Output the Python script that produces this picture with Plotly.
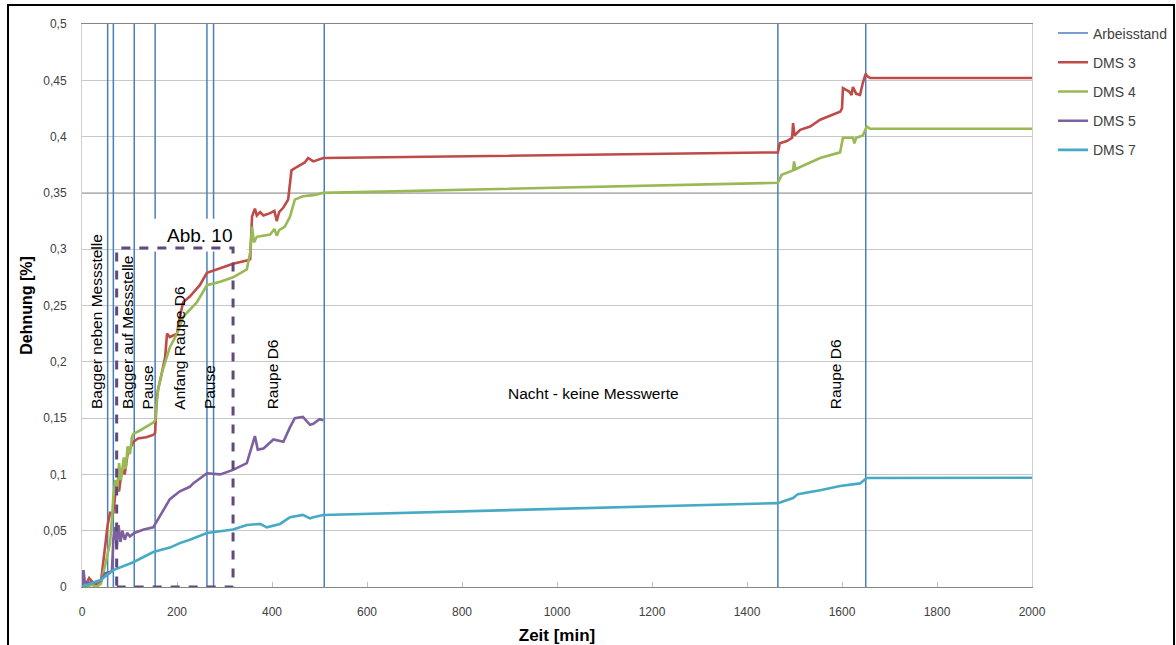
import plotly.graph_objects as go

# ---------------- data ----------------
work_times = [54, 66, 110, 154, 263, 277, 510, 1465, 1650]  # Arbeisstand markers [min]

t_dms3 = [0, 3, 8, 15, 25, 35, 40, 44, 48, 54, 59, 66, 72, 78, 84, 90, 96, 101, 108, 118, 135, 150, 154,
          157, 160, 168, 175, 179, 185, 200, 206, 213, 227, 248, 263, 291, 318, 347, 354, 358, 364, 368,
          375, 382, 396, 405, 410, 415, 424, 434, 441, 452, 469, 476, 487, 508, 1465, 1469, 1484, 1495,
          1497, 1500, 1512, 1533, 1554, 1596, 1600, 1602, 1615, 1620, 1623, 1630, 1638, 1644, 1650, 1652,
          1659, 2000]
v_dms3 = [0.0, 0.006, 0.002, 0.008, 0.003, 0.002, 0.005, 0.02, 0.035, 0.055, 0.066, 0.066, 0.09, 0.085,
          0.105, 0.10, 0.118, 0.122, 0.129, 0.132, 0.133, 0.135, 0.137, 0.166, 0.175, 0.19, 0.204, 0.225,
          0.222, 0.225, 0.24, 0.253, 0.258, 0.268, 0.279, 0.283, 0.287, 0.290, 0.291, 0.329, 0.336, 0.33,
          0.333, 0.330, 0.332, 0.334, 0.325, 0.333, 0.337, 0.344, 0.370, 0.373, 0.377, 0.381, 0.378, 0.381,
          0.386, 0.394, 0.396, 0.399, 0.412, 0.401, 0.406, 0.409, 0.415, 0.422, 0.425, 0.443, 0.440, 0.437,
          0.444, 0.438, 0.437, 0.448, 0.456, 0.454, 0.452, 0.452]

t_dms4 = [0, 3, 5, 10, 20, 30, 40, 48, 55, 59, 63, 66, 70, 74, 78, 82, 88, 92, 96, 101, 105, 108, 122,
          150, 154, 156, 160, 168, 175, 185, 200, 213, 242, 263, 291, 318, 347, 354, 358, 362, 368, 396,
          405, 410, 415, 427, 438, 448, 465, 487, 508, 1465, 1473, 1497, 1499, 1502, 1512, 1554, 1596,
          1602, 1623, 1626, 1630, 1644, 1652, 1659, 2000]
v_dms4 = [0.0, 0.015, 0.002, 0.0, 0.002, 0.0, 0.003, 0.018, 0.03, 0.039, 0.06, 0.08, 0.095, 0.085, 0.11,
          0.095, 0.115, 0.105, 0.125, 0.118, 0.133, 0.136, 0.139, 0.146, 0.148, 0.157, 0.175, 0.19, 0.2,
          0.213, 0.225, 0.240, 0.253, 0.268, 0.271, 0.275, 0.282, 0.297, 0.32, 0.306, 0.311, 0.313, 0.318,
          0.312, 0.317, 0.320, 0.329, 0.344, 0.347, 0.348, 0.350, 0.359, 0.366, 0.370, 0.378, 0.371, 0.373,
          0.381, 0.386, 0.399, 0.399, 0.394, 0.399, 0.401, 0.409, 0.407, 0.407]

t_dms5 = [0, 3, 6, 20, 38, 48, 63, 66, 70, 73, 77, 81, 85, 90, 95, 101, 110, 130, 150, 157, 179, 185,
          206, 227, 234, 263, 291, 318, 347, 358, 364, 370, 382, 403, 424, 438, 448, 465, 480, 487, 500, 508]
v_dms5 = [0.0, 0.015, 0.004, 0.004, 0.005, 0.012, 0.014, 0.042, 0.053, 0.035, 0.055, 0.04, 0.05, 0.042,
          0.048, 0.045, 0.048, 0.051, 0.053, 0.058, 0.075, 0.078, 0.085, 0.089, 0.092, 0.101, 0.100, 0.104,
          0.110, 0.125, 0.134, 0.122, 0.123, 0.131, 0.129, 0.142, 0.150, 0.151, 0.144, 0.145, 0.149, 0.148]

t_dms7 = [0, 20, 38, 66, 108, 150, 185, 206, 227, 263, 318, 347, 375, 389, 417, 438, 465, 480, 487, 508,
          1465, 1497, 1507, 1554, 1596, 1638, 1652, 2000]
v_dms7 = [0.0, 0.003, 0.006, 0.015, 0.022, 0.031, 0.035, 0.039, 0.042, 0.048, 0.051, 0.055, 0.056, 0.053,
          0.056, 0.062, 0.064, 0.061, 0.062, 0.064, 0.0745, 0.079, 0.0825, 0.086, 0.0897, 0.092, 0.0968, 0.097]

phase_labels = ["Bagger neben Messstelle", "Bagger auf Messstelle", "Pause", "Anfang Raupe D6",
                "Pause", "Raupe D6", "Raupe D6"]
phase_x = [32, 97, 137, 206, 269, 400, 1585]

x_ticks = list(range(0, 2001, 200))
y_ticks = [round(0.05 * i, 2) for i in range(11)]

# ---------------- figure ----------------
C_BLUE = "#4A7EBB"
C_RED = "#BE4B48"
C_GREEN = "#98B954"
C_PURPLE = "#7D60A0"
C_CYAN = "#46AAC5"
TXT_FONT = "Liberation Sans, Arial, sans-serif"

fig = go.Figure()

wx, wy = [], []
for t in work_times:
    wx += [t, t, None]
    wy += [0, 0.5, None]
fig.add_trace(go.Scatter(x=wx, y=wy, mode="lines", name="Arbeisstand", legendgroup="a",
                         line=dict(color=C_BLUE, width=1.5)))

for name, tx, vy, col in [("DMS 3", t_dms3, v_dms3, C_RED), ("DMS 4", t_dms4, v_dms4, C_GREEN),
                          ("DMS 5", t_dms5, v_dms5, C_PURPLE), ("DMS 7", t_dms7, v_dms7, C_CYAN)]:
    fig.add_trace(go.Scatter(x=tx, y=vy, mode="lines", name=name, legendgroup=name,
                             line=dict(color=col, width=2.6)))

# phase annotations (rotated)
for lab, xx in zip(phase_labels, phase_x):
    fig.add_annotation(x=xx, y=0.156, xref="x", yref="y", text=lab, textangle=-90, showarrow=False,
                       xanchor="center", yanchor="bottom",
                       font=dict(size=15.5, color="#000000", family=TXT_FONT))
fig.add_annotation(x=1076, y=0.172, xref="x", yref="y", text="Nacht - keine Messwerte", showarrow=False,
                   xanchor="center", yanchor="middle",
                   font=dict(size=15.5, color="#000000", family=TXT_FONT))

# Abb. 10 label and box
fig.add_shape(type="rect", xref="x", yref="y", x0=139, x1=347, y0=0.298, y1=0.327,
              fillcolor="white", line=dict(width=0), layer="above")
fig.add_shape(type="rect", xref="x", yref="y", x0=73, x1=318, y0=0.0, y1=0.301,
              line=dict(color="#604A7B", width=3, dash="dash"), layer="above")
fig.add_annotation(x=248, y=0.312, xref="x", yref="y", text="Abb. 10", showarrow=False,
                   font=dict(size=19, color="#000000", family=TXT_FONT))

# darker 0.35 line
fig.add_shape(type="line", xref="paper", yref="y", x0=0, x1=1, y0=0.35, y1=0.35,
              line=dict(color="#B4B4B4", width=2), layer="below")

# outer frame (pixel 8 / 5 from the page corner)
fig.add_shape(type="rect", xref="paper", yref="paper", x0=-0.0779, x1=1.1495, y0=-0.12, y1=1.0338,
              line=dict(color="black", width=2), layer="above")

fig.update_layout(
    width=1176, height=645,
    margin=dict(l=82, r=144, t=24, b=58, autoexpand=False),
    paper_bgcolor="white", plot_bgcolor="white",
    separators=", ",
    font=dict(family=TXT_FONT, size=12, color="#404040"),
    showlegend=True,
    legend=dict(xref="container", yref="container", x=0.8954, y=0.9729, xanchor="left", yanchor="top",
                tracegroupgap=8, font=dict(size=14, color="#404040", family=TXT_FONT),
                bgcolor="rgba(0,0,0,0)"),
    xaxis=dict(range=[0, 2000], tickvals=x_ticks, ticks="inside", ticklen=5, tickcolor="#BFBFBF",
               showgrid=False, zeroline=False, showline=True, linecolor="#868686", linewidth=1,
               mirror=True, ticklabelstandoff=14,
               title=dict(text="<b>Zeit [min]</b>", font=dict(size=17, color="#000000", family=TXT_FONT),
                          standoff=10)),
    yaxis=dict(range=[0, 0.5], tickvals=y_ticks, ticks="", showgrid=True, gridcolor="#C8C8C8",
               gridwidth=1, zeroline=False, showline=True, linecolor="#D0D0D0", linewidth=1, mirror=True,
               ticklabelstandoff=12,
               title=dict(text="<b>Dehnung [%]</b>", font=dict(size=16, color="#000000", family=TXT_FONT),
                          standoff=6)),
)

fig.write_html("out.html", config={"displayModeBar": False},
               post_script="document.body.style.margin='0';")
